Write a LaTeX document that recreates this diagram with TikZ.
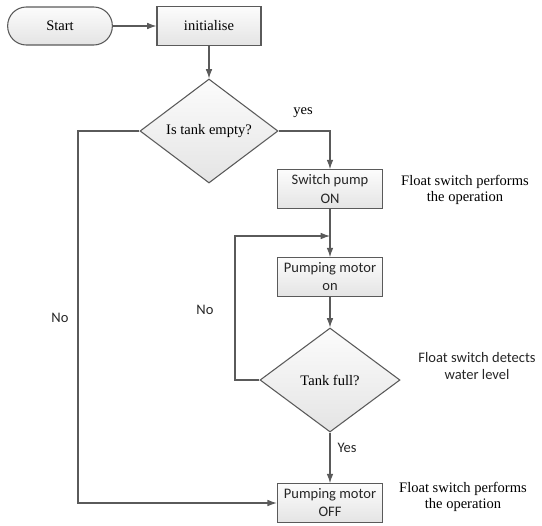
\documentclass[tikz,border=0pt]{standalone}
\usepackage{fontspec}
\setmainfont{Liberation Serif}
\newfontfamily\calib{Carlito}
\usepackage{tikz}
\usetikzlibrary{arrows.meta,positioning,calc,shapes.geometric}

\definecolor{edgegray}{HTML}{5A5A5A}
\definecolor{boxtop}{HTML}{FCFCFC}
\definecolor{boxbot}{HTML}{E4E4E4}

\tikzset{
  boxfill/.style={draw=edgegray, line width=0.8pt, top color=boxtop, bottom color=boxbot},
  serifbox/.style={boxfill, rectangle, minimum width=78pt, minimum height=29pt, inner sep=1pt, font=\fontsize{10.9}{13}\selectfont},
  sansbox/.style={boxfill, rectangle, minimum width=79pt, minimum height=29pt, inner sep=1pt, align=center, font=\calib\fontsize{10.9}{13.5}\selectfont, text=black!85},
  decision/.style={boxfill, diamond, minimum width=104pt, minimum height=78pt, inner sep=0pt, font=\fontsize{10.9}{13}\selectfont},
  note/.style={align=center, inner sep=0.75pt, font=\fontsize{10.9}{12.5}\selectfont},
  sansnote/.style={align=center, inner sep=0.75pt, font=\calib\fontsize{10.9}{12.5}\selectfont, text=black!85},
  flow/.style={draw=edgegray, line width=0.8pt, -{Latex[length=7pt,width=5pt]}},
  plainline/.style={draw=edgegray, line width=0.8pt}
}

\begin{document}
\begin{tikzpicture}[x=0.75pt,y=0.75pt,yscale=-1,xscale=1]
\path[use as bounding box] (0,0) rectangle (542,525);

% Start / initialise
\node [boxfill, rectangle, rounded corners=14pt, minimum width=78.5pt, minimum height=28.5pt, font=\fontsize{10.9}{13}\selectfont] (start) at (60,26) {Start};
\node [serifbox] (init) at (209,26) {initialise};

% first decision
\node [decision, minimum width=103.5pt] (empty) at (209,131) {Is tank empty?};

% pump boxes
\node [sansbox] (pumpon) at (330,189) {Switch pump\\ON};
\node [sansbox] (motoron) at (330,277) {Pumping motor\\on};

% second decision
\node [decision, minimum width=105pt] (full) at (330,380) {Tank full?};

\node [sansbox] (motoroff) at (330,503) {Pumping motor\\OFF};

% Text Node
\node [note] (noteop) at (465,190) {Float switch performs\\the operation};
% Text Node
\node [sansnote] (notelvl) at (477,366) {Float switch detects\\water level};
% Text Node
\node [note] (noteoff) at (463,497) {Float switch performs\\the operation};
% Text Node
\node [note] (yeslbl) at (303,113) {yes};
\node [sansnote] (noloop) at (205,310) {No};
\node [sansnote] (noleft) at (60,318) {No};
\node [sansnote] (yesfull) at (347,448) {Yes};

% corners of the return lines
\coordinate (leftc) at (78,503);
\coordinate (loopc) at (235,236);
\coordinate (loopend) at (330,236);

% connectors
\draw [flow] (start) -- (init);
\draw [flow] (init) -- (empty);
\draw [flow] (empty.east) -| (pumpon.north);
\draw [flow] (pumpon) -- (motoron);
\draw [flow] (motoron) -- (full);
\draw [flow] (full) -- (motoroff);
\draw [flow] (empty.west) -| (leftc) -- (motoroff.west);
\draw [flow] (full.west) -| (loopc) -- (loopend);
\end{tikzpicture}
\end{document}
